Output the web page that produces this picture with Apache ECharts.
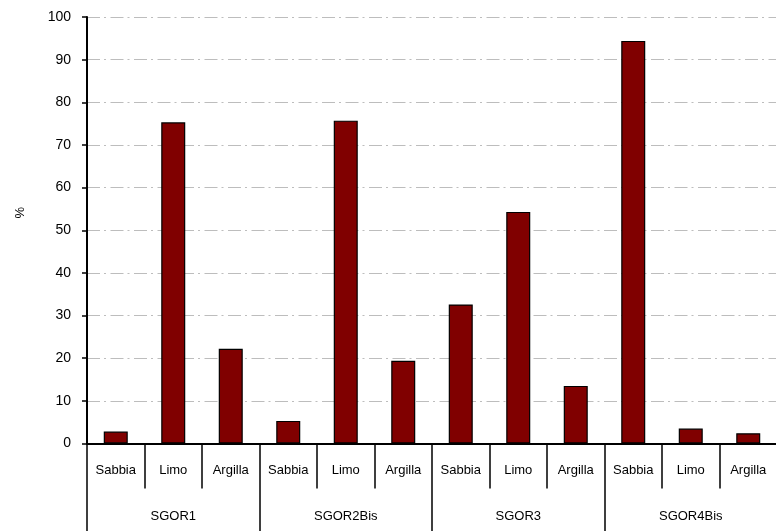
<!DOCTYPE html>
<html>
<head>
<meta charset="utf-8">
<script src="https://cdn.jsdelivr.net/npm/echarts@6/dist/echarts.min.js"></script>
<style>
  html, body { margin: 0; padding: 0; background: #ffffff; overflow: hidden; }
  #chart { width: 800px; height: 531px; }
</style>
</head>
<body>
<div id="chart"></div>
<script>
// Grain-size fractions (%) for each sample
const fractions = ['Sabbia', 'Limo', 'Argilla'];
const samples = ['SGOR1', 'SGOR2Bis', 'SGOR3', 'SGOR4Bis'];
const sgor1 = [2.8, 75.3, 22.2];
const sgor2bis = [5.3, 75.7, 19.4];
const sgor3 = [32.6, 54.3, 13.5];
const sgor4bis = [94.4, 3.5, 2.4];
const yTicks = [0, 10, 20, 30, 40, 50, 60, 70, 80, 90, 100];

const sampleValues = [sgor1, sgor2bis, sgor3, sgor4bis];
const categories = [];
const values = [];
samples.forEach((s, i) => {
  fractions.forEach((f, j) => {
    categories.push(f);
    values.push(sampleValues[i][j]);
  });
});

const font = '"Liberation Sans", Arial, sans-serif';
const chart = echarts.init(document.getElementById('chart'), null, { renderer: 'canvas' });

chart.setOption({
  animation: false,
  backgroundColor: '#ffffff',
  // the plot runs slightly past the right edge of the visible page
  grid: { left: 87, top: 17, width: 690, bottom: 87.5, containLabel: false },
  xAxis: [
    {
      type: 'category',
      data: categories,
      position: 'bottom',
      axisLine: { show: true, lineStyle: { color: '#000', width: 2 } },
      axisTick: { show: true, interval: 0, length: 45, lineStyle: { color: '#000', width: 1.5 } },
      axisLabel: { interval: 0, margin: 20, color: '#000', fontSize: 13, fontFamily: font },
      splitLine: { show: false }
    },
    {
      type: 'category',
      data: samples,
      position: 'bottom',
      axisLine: { show: false },
      axisTick: { show: true, interval: 0, length: 90, lineStyle: { color: '#000', width: 1.5 } },
      axisLabel: { interval: 0, margin: 66, color: '#000', fontSize: 13, fontFamily: font },
      splitLine: { show: false }
    }
  ],
  yAxis: {
    type: 'value',
    min: yTicks[0],
    max: yTicks[yTicks.length - 1],
    interval: 10,
    axisLine: { show: true, lineStyle: { color: '#000', width: 2 } },
    axisTick: { show: true, length: 5, lineStyle: { color: '#000', width: 1.5 } },
    axisLabel: { margin: 16, color: '#000', fontSize: 14, fontFamily: font },
    splitLine: {
      show: true,
      lineStyle: { color: '#bdbdbd', width: 1.2, type: [13, 4, 2, 4.5] }
    }
  },
  graphic: [
    {
      type: 'text',
      left: 14,
      top: 207,
      rotation: Math.PI / 2,
      style: { text: '%', fill: '#000', font: '13px ' + font }
    }
  ],
  series: [
    {
      type: 'bar',
      xAxisIndex: 0,
      data: values,
      barWidth: 24,
      itemStyle: { color: '#800000', borderColor: '#000', borderWidth: 1.2 }
    }
  ]
});
</script>
</body>
</html>
